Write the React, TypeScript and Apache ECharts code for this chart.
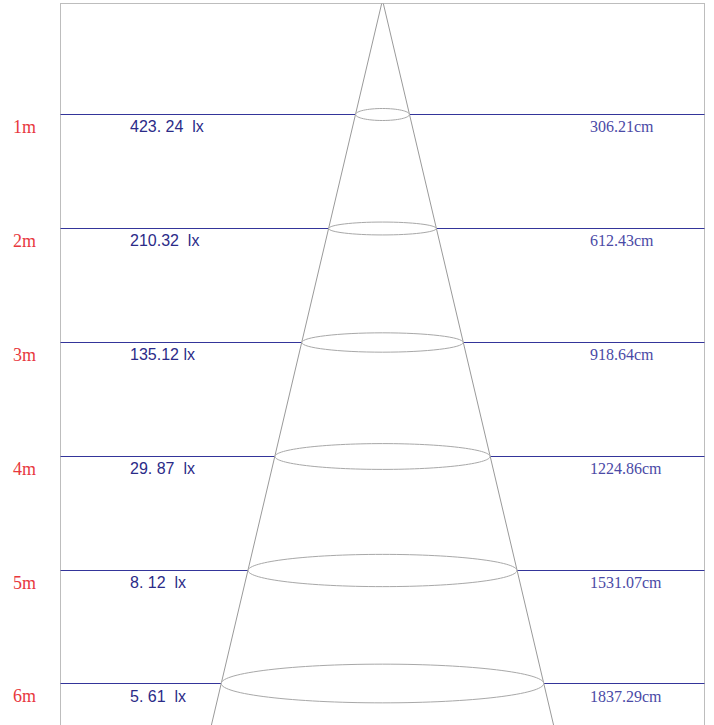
import React, { useEffect, useRef } from 'react';
import * as echarts from 'echarts';

const distanceLabels = ['1m', '2m', '3m', '4m', '5m', '6m'];
const distanceValues = [1, 2, 3, 4, 5, 6];
const luxLabels = ['423. 24  lx', '210.32  lx', '135.12 lx', '29. 87  lx', '8. 12  lx', '5. 61  lx'];
const diameterValues = [306.21, 612.43, 918.64, 1224.86, 1531.07, 1837.29];
const diameterLabels = ['306.21cm', '612.43cm', '918.64cm', '1224.86cm', '1531.07cm', '1837.29cm'];

export default function App() {
  const ref = useRef<HTMLDivElement>(null);
  useEffect(() => {
    if (!ref.current) return;
    const chart = echarts.init(ref.current, null, { renderer: 'svg' });
    const maxD = diameterValues[diameterValues.length - 1];
    const levelData = distanceValues.map((d, i) => [i, d, diameterValues[i] / 2]);
    const TOP = 3.5;

    chart.setOption({
      animation: false,
      grid: {
        left: 60,
        right: 9,
        top: 0,
        bottom: 2.7,
        show: false,
      },
      xAxis: {
        type: 'value',
        min: -maxD,
        max: maxD,
        show: false,
      },
      yAxis: {
        type: 'value',
        inverse: true,
        min: 0,
        max: 7,
        interval: 1,
        axisLine: { show: false },
        axisTick: { show: false },
        splitLine: { show: false },
        axisLabel: {
          show: true,
          align: 'left',
          margin: 47,
          verticalAlign: 'top',
          padding: [4, 0, 0, 0],
          color: '#e8383d',
          fontFamily: 'Liberation Serif',
          fontSize: 18,
          formatter: (v: number) => {
            const idx = distanceValues.indexOf(v);
            return idx >= 0 ? distanceLabels[idx] : '';
          },
        },
      },
      series: [
        {
          type: 'custom',
          name: 'frame',
          clip: false,
          z: 0,
          data: [[0, 0]],
          renderItem: (params: any) => {
            const cs = params.coordSys;
            const l = cs.x + 0.5;
            const r = cs.x + cs.width - 0.5;
            const t = cs.y + TOP;
            const b = cs.y + cs.height;
            const st = { stroke: '#bdbdbd', lineWidth: 1 };
            return {
              type: 'group',
              children: [
                { type: 'line', shape: { x1: l - 0.5, y1: t, x2: r + 0.5, y2: t }, style: st },
                { type: 'line', shape: { x1: l, y1: t, x2: l, y2: b }, style: st },
                { type: 'line', shape: { x1: r, y1: t, x2: r, y2: b }, style: st },
              ],
            };
          },
        },
        {
          type: 'custom',
          name: 'lines',
          clip: false,
          z: 1,
          data: levelData,
          renderItem: (params: any, api: any) => {
            const cs = params.coordSys;
            const d = api.value(1);
            const y = Math.round(api.coord([0, d])[1]) + 0.5;
            return {
              type: 'line',
              shape: { x1: cs.x + 0.5, y1: y, x2: cs.x + cs.width - 0.5, y2: y },
              style: { stroke: '#34359a', lineWidth: 1 },
            };
          },
        },
        {
          type: 'custom',
          name: 'cone',
          clip: false,
          z: 2,
          data: [[0, 6, maxD / 2]],
          renderItem: (params: any, api: any) => {
            const cs = params.coordSys;
            const apex = api.coord([0, 0]);
            const d = api.value(1);
            const r = api.value(2);
            const ext = 7 / d;
            const left = api.coord([-r * ext, 7]);
            const right = api.coord([r * ext, 7]);
            const t = cs.y + TOP;
            const f = (t - apex[1]) / (left[1] - apex[1]);
            const lx0 = apex[0] + (left[0] - apex[0]) * f;
            const rx0 = apex[0] + (right[0] - apex[0]) * f;
            return {
              type: 'group',
              children: [
                {
                  type: 'line',
                  shape: { x1: lx0, y1: t, x2: left[0], y2: left[1] },
                  style: { stroke: '#9a9a9a', lineWidth: 1 },
                },
                {
                  type: 'line',
                  shape: { x1: rx0, y1: t, x2: right[0], y2: right[1] },
                  style: { stroke: '#9a9a9a', lineWidth: 1 },
                },
              ],
            };
          },
        },
        {
          type: 'custom',
          name: 'ellipses',
          clip: false,
          z: 3,
          data: levelData,
          renderItem: (params: any, api: any) => {
            const cs = params.coordSys;
            const i = api.value(0);
            const d = api.value(1);
            const r = api.value(2);
            const c = api.coord([0, d]);
            const e = api.coord([r, d]);
            const rx = e[0] - c[0];
            const ry = Math.max(6, rx * 0.12);
            const cy = Math.round(c[1]) + 0.5;
            return {
              type: 'group',
              children: [
                {
                  type: 'ellipse',
                  shape: { cx: c[0], cy, rx, ry },
                  style: { fill: '#ffffff', stroke: '#a8a8a8', lineWidth: 1 },
                },
                {
                  type: 'text',
                  style: {
                    text: luxLabels[i],
                    x: cs.x + 70,
                    y: c[1] + 13,
                    fill: '#2b2b88',
                    fontSize: 16,
                    fontFamily: "'Liberation Sans Narrow', 'Liberation Sans', Arial",
                    align: 'left',
                    verticalAlign: 'middle',
                  },
                },
                {
                  type: 'text',
                  style: {
                    text: diameterLabels[i],
                    x: cs.x + 530,
                    y: c[1] + 13,
                    fill: '#4a4aa6',
                    fontSize: 16,
                    fontFamily: "'Liberation Serif', serif",
                    align: 'left',
                    verticalAlign: 'middle',
                  },
                },
              ],
            };
          },
        },
      ],
    });
    return () => chart.dispose();
  }, []);

  return (
    <div style={{ position: 'fixed', left: 0, top: 0, width: 714, height: 725, overflow: 'hidden', background: '#fff' }}>
      <div ref={ref} style={{ width: 714, height: 800 }} />
    </div>
  );
}
